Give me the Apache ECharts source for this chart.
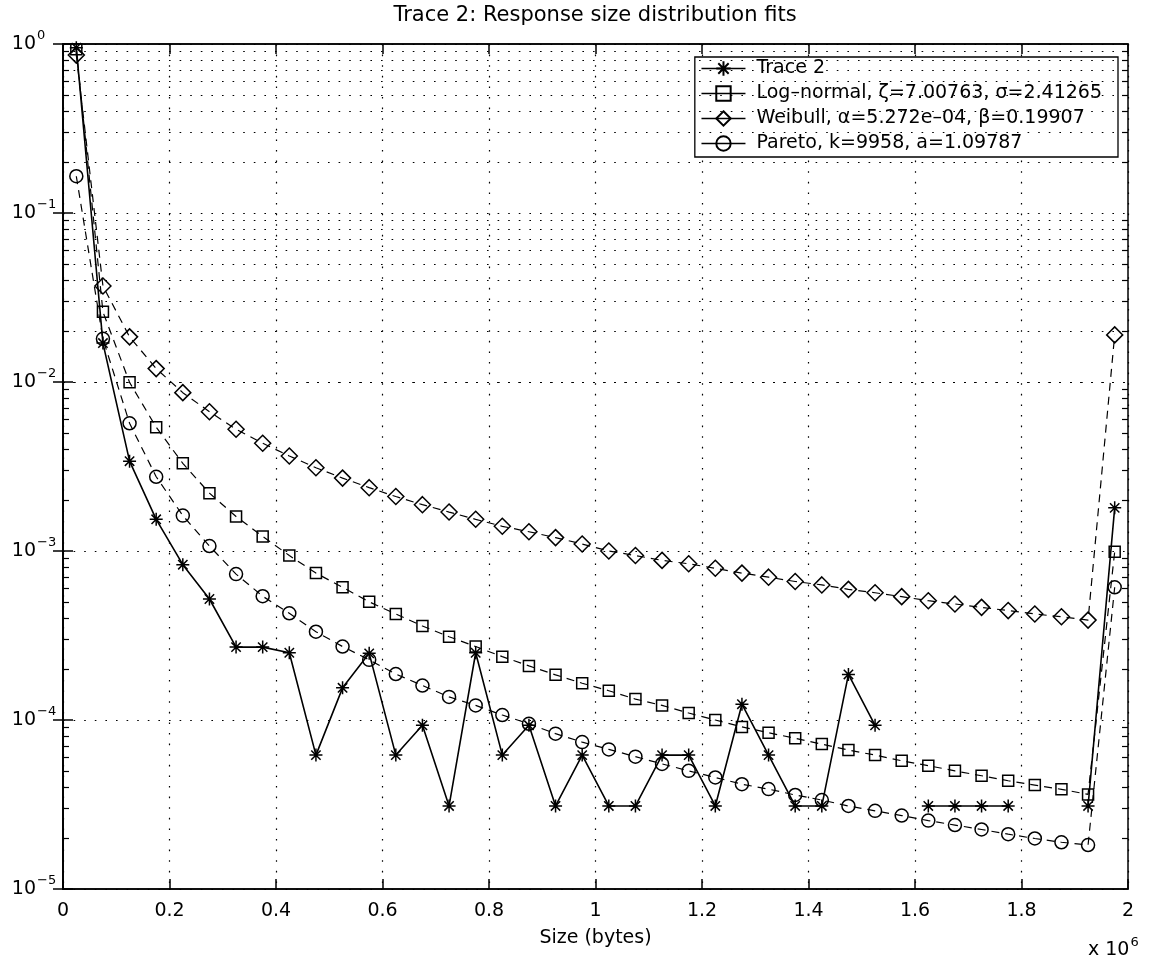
<!DOCTYPE html>
<html>
<head>
<meta charset="utf-8">
<script src="https://cdn.jsdelivr.net/npm/echarts@6/dist/echarts.min.js"></script>
<style>html,body{margin:0;padding:0;background:#fff}#c{width:1150px;height:963px}</style>
</head>
<body>
<div id="c"></div>
<script>
// ---- data (bin centres in bytes, probability per bin) ----
const sizes = [25000, 75000, 125000, 175000, 225000, 275000, 325000, 375000, 425000, 475000,
  525000, 575000, 625000, 675000, 725000, 775000, 825000, 875000, 925000, 975000,
  1025000, 1075000, 1125000, 1175000, 1225000, 1275000, 1325000, 1375000, 1425000, 1475000,
  1525000, 1575000, 1625000, 1675000, 1725000, 1775000, 1825000, 1875000, 1925000, 1975000];

const trace2 = [0.95, 0.017, 0.0034, 0.00154, 8.3e-4, 5.2e-4, 2.7e-4, 2.7e-4, 2.5e-4, 6.2e-5,
  1.55e-4, 2.48e-4, 6.2e-5, 9.3e-5, 3.1e-5, 2.5e-4, 6.2e-5, 9.3e-5, 3.1e-5, 6.2e-5,
  3.1e-5, 3.1e-5, 6.2e-5, 6.2e-5, 3.1e-5, 1.24e-4, 6.2e-5, 3.1e-5, 3.1e-5, 1.86e-4,
  9.3e-5, null, 3.1e-5, 3.1e-5, 3.1e-5, 3.1e-5, null, null, 3.1e-5, 1.8e-3];

const logNormal = [0.93, 0.026, 0.00995, 0.0054, 0.0033, 0.0022, 0.0016, 0.00122, 9.4e-4, 7.4e-4,
  6.1e-4, 5.0e-4, 4.24e-4, 3.6e-4, 3.11e-4, 2.72e-4, 2.37e-4, 2.09e-4, 1.85e-4, 1.65e-4,
  1.49e-4, 1.33e-4, 1.22e-4, 1.1e-4, 1.0e-4, 9.1e-5, 8.4e-5, 7.8e-5, 7.2e-5, 6.64e-5,
  6.2e-5, 5.74e-5, 5.37e-5, 5.0e-5, 4.68e-5, 4.37e-5, 4.12e-5, 3.89e-5, 3.63e-5, 9.9e-4];

const weibull = [0.86, 0.037, 0.0185, 0.012, 0.00865, 0.00667, 0.00525, 0.00434, 0.00365, 0.00311,
  0.0027, 0.00237, 0.0021, 0.00188, 0.0017, 0.00154, 0.0014, 0.0013, 0.0012, 0.0011,
  0.001, 9.4e-4, 8.8e-4, 8.4e-4, 7.9e-4, 7.4e-4, 7.0e-4, 6.6e-4, 6.3e-4, 5.93e-4,
  5.66e-4, 5.37e-4, 5.08e-4, 4.86e-4, 4.64e-4, 4.44e-4, 4.24e-4, 4.08e-4, 3.9e-4, 0.019];

const pareto = [0.165, 0.018, 0.0057, 0.00275, 0.00162, 0.00107, 7.3e-4, 5.4e-4, 4.28e-4, 3.33e-4,
  2.72e-4, 2.27e-4, 1.87e-4, 1.6e-4, 1.37e-4, 1.22e-4, 1.07e-4, 9.5e-5, 8.3e-5, 7.4e-5,
  6.7e-5, 6.07e-5, 5.5e-5, 5.0e-5, 4.57e-5, 4.17e-5, 3.9e-5, 3.6e-5, 3.36e-5, 3.1e-5,
  2.9e-5, 2.72e-5, 2.54e-5, 2.39e-5, 2.25e-5, 2.11e-5, 1.99e-5, 1.89e-5, 1.82e-5, 6.1e-4];

const seriesNames = ['Trace 2', 'Log\u2013normal, \u03B6=7.00763, \u03C3=2.41265',
  'Weibull, \u03B1=5.272e\u201304, \u03B2=0.19907', 'Pareto, k=9958, a=1.09787'];
const titleText = 'Trace 2: Response size distribution fits';
const xName = 'Size (bytes)';
const decades = [1e-5, 1e-4, 1e-3, 1e-2, 1e-1, 1];
const mantissas = [2, 3, 4, 5, 6, 7, 8, 9];

// ---- derived ----
const minorVals = [];
decades.slice(0, 5).forEach(d => mantissas.forEach(m => minorVals.push(+(m * d).toPrecision(3))));
const pairs = arr => sizes.map((x, i) => [x, arr[i]]);

const FONT = 'DejaVu Sans';
const FS = 19;
const dotted = { color: '#000', width: 1.2, type: [1.6, 9] };
const asterisk = 'path://M5,0 L5,10 M0,5 L10,5 M1.4,1.4 L8.6,8.6 M8.6,1.4 L1.4,8.6';
const hollow = { color: 'rgba(0,0,0,0)', borderColor: '#000', borderWidth: 1.5 };
const dash = { color: '#000', width: 1.2, type: [8, 6] };

const chart = echarts.init(document.getElementById('c'));
const option = {
  animation: false,
  backgroundColor: '#fff',
  textStyle: { fontFamily: FONT, color: '#000' },
  title: {
    text: titleText, left: 595, top: 5, textAlign: 'center', padding: 0,
    textStyle: { fontFamily: FONT, fontSize: 21, fontWeight: 'normal', color: '#000' }
  },
  grid: { left: 63, right: 22, top: 44, bottom: 74, show: true, borderColor: '#000', borderWidth: 1.5, backgroundColor: 'rgba(0,0,0,0)' },
  legend: {
    data: seriesNames, orient: 'vertical', right: 32, top: 57, backgroundColor: '#fff',
    borderColor: '#000', borderWidth: 1.3, borderRadius: 0, padding: [2, 16, 4, 6], itemGap: 6,
    itemWidth: 44, itemHeight: 18, selectedMode: false,
    textStyle: { fontFamily: FONT, fontSize: FS, color: '#000', padding: [0, 0, 0, 6] },
    lineStyle: { type: 'solid', width: 1.3, color: '#000' }
  },
  xAxis: [{
    type: 'value', position: 'bottom', min: 0, max: 2000000, interval: 200000,
    axisLine: { lineStyle: { color: '#000', width: 1.5 } },
    axisTick: { inside: true, length: 10, lineStyle: { color: '#000', width: 1.5 } },
    axisLabel: { fontFamily: FONT, fontSize: FS, color: '#000', margin: 13, formatter: v => String(+(v / 1e6).toFixed(1)) },
    splitLine: { show: true, lineStyle: dotted },
    name: xName, nameLocation: 'middle', nameGap: 40,
    nameTextStyle: { fontFamily: FONT, fontSize: FS, color: '#000' }
  }, {
    type: 'value', position: 'top', min: 0, max: 2000000, interval: 200000,
    axisLine: { lineStyle: { color: '#000', width: 1.5 } },
    axisTick: { inside: true, length: 10, lineStyle: { color: '#000', width: 1.5 } },
    axisLabel: { show: false }, splitLine: { show: false }
  }],
  yAxis: [{
    type: 'log', logBase: 10, position: 'left', min: 1e-5, max: 1,
    axisLine: { lineStyle: { color: '#000', width: 1.5 } },
    axisTick: { inside: true, length: 10, lineStyle: { color: '#000', width: 1.5 } },
    axisLabel: {
      margin: 8, color: '#000',
      formatter: v => '{b|10}{s|' + String(Math.round(Math.log10(v))).replace('-', '\u2212') + '}',
      rich: {
        b: { fontFamily: FONT, fontSize: FS, color: '#000', align: 'left' },
        s: { fontFamily: FONT, fontSize: 13, color: '#000', width: 18, align: 'left', padding: [0, 0, 16, 1] }
      }
    },
    splitLine: { show: true, lineStyle: dotted }
  }, {
    type: 'log', logBase: 10, position: 'right', min: 1e-5, max: 1,
    axisLine: { lineStyle: { color: '#000', width: 1.5 } },
    axisTick: { inside: true, length: 10, lineStyle: { color: '#000', width: 1.5 } },
    axisLabel: { show: false }, splitLine: { show: false }
  }, {
    type: 'log', logBase: 10, position: 'left', min: 1e-5, max: 1,
    axisLine: { show: false },
    axisTick: { inside: true, length: 6, customValues: minorVals, lineStyle: { color: '#000', width: 1.2 } },
    axisLabel: { show: false }, splitLine: { show: false }
  }, {
    type: 'log', logBase: 10, position: 'right', min: 1e-5, max: 1,
    axisLine: { show: false },
    axisTick: { inside: true, length: 6, customValues: minorVals, lineStyle: { color: '#000', width: 1.2 } },
    axisLabel: { show: false }, splitLine: { show: false }
  }],
  graphic: [{
    type: 'text', left: 1088, top: 936,
    style: {
      text: '{a|x 10}{s|6}',
      rich: {
        a: { fontFamily: FONT, fontSize: FS, fill: '#000' },
        s: { fontFamily: FONT, fontSize: 13, fill: '#000', padding: [0, 0, 16, 1] }
      }
    }
  }],
  series: [{
    name: '_grid', type: 'line', data: [], silent: true, z: 1,
    markLine: {
      silent: true, symbol: ['none', 'none'], label: { show: false },
      lineStyle: dotted, data: minorVals.map(v => ({ yAxis: v }))
    }
  }, {
    name: seriesNames[0], type: 'line', data: pairs(trace2), connectNulls: false,
    symbol: asterisk, symbolSize: 13, z: 5,
    itemStyle: { color: '#000', borderColor: '#000', borderWidth: 1.5 },
    lineStyle: { color: '#000', width: 1.6, type: 'solid' }
  }, {
    name: seriesNames[1], type: 'line', data: pairs(logNormal),
    symbol: 'rect', symbolSize: 11, z: 4, itemStyle: hollow, lineStyle: dash
  }, {
    name: seriesNames[2], type: 'line', data: pairs(weibull),
    symbol: 'diamond', symbolSize: 16, z: 4, itemStyle: hollow, lineStyle: dash
  }, {
    name: seriesNames[3], type: 'line', data: pairs(pareto),
    symbol: 'circle', symbolSize: 13, z: 4, itemStyle: hollow, lineStyle: dash
  }]
};
chart.setOption(option);
</script>
</body>
</html>
